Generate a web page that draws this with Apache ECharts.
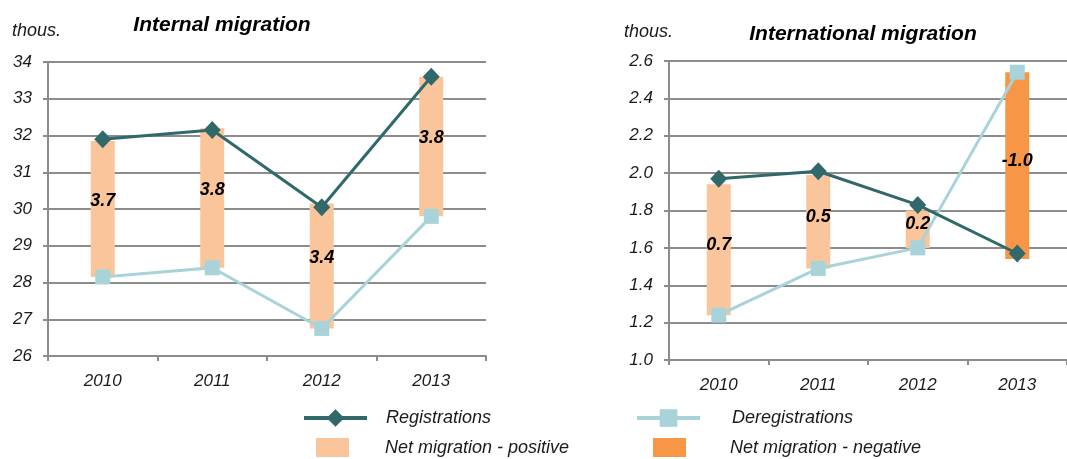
<!DOCTYPE html>
<html>
<head>
<meta charset="utf-8">
<script src="https://cdn.jsdelivr.net/npm/echarts@6/dist/echarts.min.js"></script>
<style>
  html, body { margin: 0; padding: 0; background: #ffffff; }
  #chart { width: 1067px; height: 459px; }
</style>
</head>
<body>
<div id="chart"></div>
<script>
// Migration figures, thousands of people
const years = ['2010', '2011', '2012', '2013'];

const internalRegistrations = [31.9, 32.15, 30.05, 33.6];
const internalDeregistrations = [28.15, 28.4, 26.75, 29.8];
const internalNet = [3.7, 3.8, 3.4, 3.8];

const internationalRegistrations = [1.97, 2.01, 1.83, 1.57];
const internationalDeregistrations = [1.24, 1.49, 1.60, 2.54];
const internationalNet = [0.7, 0.5, 0.2, -1.0];

// Value axis ranges (tick labels follow from min / max / interval)
const internalAxis = { min: 26, max: 34, interval: 1 };
const internationalAxis = { min: 1.0, max: 2.6, interval: 0.2 };

const COLORS = {
  registrations: '#31696B',
  deregistrations: '#A8D4D9',
  positive: '#FAC59A',
  negative: '#F79646',
  grid: '#8C8C8C',
  text: '#1A1A1A'
};
const FONT = "'Liberation Sans', Arial, sans-serif";
const BAR_W = 24;

function xAxisFor(gridIndex) {
  return {
    type: 'category',
    gridIndex,
    data: years,
    boundaryGap: true,
    axisLine: { lineStyle: { color: COLORS.grid, width: 2 } },
    axisTick: { show: true, length: 5, interval: 0, lineStyle: { color: COLORS.grid, width: 2 } },
    axisLabel: { margin: 17, fontSize: 17, fontStyle: 'italic', fontFamily: FONT, color: COLORS.text }
  };
}

function yAxisFor(gridIndex, range, digits) {
  return {
    type: 'value',
    gridIndex,
    min: range.min,
    max: range.max,
    interval: range.interval,
    axisLine: { show: true, lineStyle: { color: COLORS.grid, width: 2 } },
    axisTick: { show: true, length: 5, lineStyle: { color: COLORS.grid, width: 2 } },
    splitLine: { show: true, lineStyle: { color: COLORS.grid, width: 2 } },
    axisLabel: {
      margin: 16, fontSize: 17, fontStyle: 'italic', fontFamily: FONT, color: COLORS.text,
      formatter: v => v.toFixed(digits)
    }
  };
}

// Floating bar from deregistrations to deregistrations + net, labelled with the net value
function netSeries(name, color, axisIndex, deregs, nets, wantNegative, labelShift) {
  const data = nets
    .map((v, i) => [i, deregs[i], v])
    .filter(d => (wantNegative ? d[2] < 0 : d[2] >= 0));
  return {
    type: 'custom',
    name,
    xAxisIndex: axisIndex,
    yAxisIndex: axisIndex,
    z: 1,
    itemStyle: { color },
    encode: { x: 0, y: [1] },
    data,
    renderItem(params, api) {
      const idx = api.value(0);
      const base = api.value(1);
      const net = api.value(2);
      const a = api.coord([idx, base]);
      const b = api.coord([idx, base + net]);
      const top = Math.min(a[1], b[1]);
      const h = Math.abs(a[1] - b[1]);
      return {
        type: 'group',
        children: [
          { type: 'rect', shape: { x: a[0] - BAR_W / 2, y: top, width: BAR_W, height: h }, style: { fill: color } },
          {
            type: 'text', x: a[0], y: top + h / 2 + labelShift, z2: 10,
            style: {
              text: net.toFixed(1), fill: '#000000',
              font: 'italic bold 18px ' + FONT,
              align: 'center', verticalAlign: 'middle'
            }
          }
        ]
      };
    }
  };
}

function lineSeries(name, axisIndex, values, color, symbol, size, z) {
  return {
    type: 'line',
    name,
    xAxisIndex: axisIndex,
    yAxisIndex: axisIndex,
    data: values,
    symbol,
    symbolSize: size,
    showAllSymbol: true,
    z,
    lineStyle: { color, width: 3 },
    itemStyle: { color }
  };
}

function legendItem(name, left, top, w, h, gap, icon) {
  const item = {
    data: [name],
    left, top,
    padding: 0,
    itemWidth: w,
    itemHeight: h,
    selectedMode: false,
    lineStyle: { width: 4 },
    textStyle: { fontSize: 18, fontStyle: 'italic', fontFamily: FONT, color: COLORS.text, padding: [0, 0, 0, gap] }
  };
  if (icon) item.icon = icon;
  return item;
}

const chart = echarts.init(document.getElementById('chart'), null, { renderer: 'canvas' });

chart.setOption({
  animation: false,
  backgroundColor: '#ffffff',
  title: [
    { text: 'Internal migration', left: 222, top: 15, textAlign: 'center', padding: 0,
      textStyle: { fontSize: 21, fontWeight: 'bold', fontStyle: 'italic', fontFamily: FONT, color: '#000' } },
    { text: 'thous.', left: 12, top: 22, padding: 0,
      textStyle: { fontSize: 18, fontWeight: 'normal', fontStyle: 'italic', fontFamily: FONT, color: COLORS.text } },
    { text: 'International migration', left: 863, top: 24, textAlign: 'center', padding: 0,
      textStyle: { fontSize: 21, fontWeight: 'bold', fontStyle: 'italic', fontFamily: FONT, color: '#000' } },
    { text: 'thous.', left: 624, top: 23, padding: 0,
      textStyle: { fontSize: 18, fontWeight: 'normal', fontStyle: 'italic', fontFamily: FONT, color: COLORS.text } }
  ],
  legend: [
    legendItem('Registrations', 302, 409, 63, 22, 14),
    legendItem('Deregistrations', 635, 409, 63, 22, 27),
    legendItem('Net migration - positive', 316, 438, 33, 19, 31, 'rect'),
    legendItem('Net migration - negative', 653, 438, 33, 19, 39, 'rect')
  ],
  grid: [
    { left: 48, top: 62, width: 438, height: 294 },
    { left: 669, top: 61, width: 411, height: 299 }
  ],
  xAxis: [xAxisFor(0), xAxisFor(1)],
  yAxis: [yAxisFor(0, internalAxis, 0), yAxisFor(1, internationalAxis, 1)],
  series: [
    netSeries('Net migration - positive', COLORS.positive, 0, internalDeregistrations, internalNet, false, -8),
    lineSeries('Deregistrations', 0, internalDeregistrations, COLORS.deregistrations, 'rect', 15, 3),
    lineSeries('Registrations', 0, internalRegistrations, COLORS.registrations, 'diamond', [17, 18], 4),

    netSeries('Net migration - positive', COLORS.positive, 1, internationalDeregistrations, internationalNet, false, -5),
    netSeries('Net migration - negative', COLORS.negative, 1, internationalDeregistrations, internationalNet, true, -5),
    lineSeries('Deregistrations', 1, internationalDeregistrations, COLORS.deregistrations, 'rect', 15, 3),
    lineSeries('Registrations', 1, internationalRegistrations, COLORS.registrations, 'diamond', [17, 18], 4)
  ]
});
</script>
</body>
</html>
